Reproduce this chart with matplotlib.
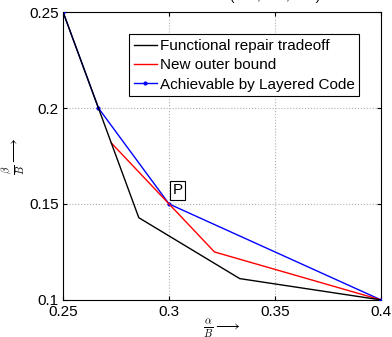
import matplotlib as mpl
import matplotlib.pyplot as plt

mpl.rcParams['font.family'] = ['Liberation Sans', 'DejaVu Sans']
mpl.rcParams['mathtext.fontset'] = 'cm'

# alpha/B and beta/B points of each curve
fr_alpha = [0.25, 4 / 15, 2 / 7, 1 / 3, 0.4]
fr_beta = [0.25, 0.2, 1 / 7, 1 / 9, 0.1]

ob_alpha = [3 / 11, 0.3, 9 / 28, 0.4]
ob_beta = [2 / 11, 0.15, 0.125, 0.1]

lc_alpha = [0.25, 4 / 15, 0.3, 0.4]
lc_beta = [0.25, 0.2, 0.15, 0.1]

xticks = [0.25, 0.3, 0.35, 0.4]
yticks = [0.1, 0.15, 0.2, 0.25]

fig = plt.figure(figsize=(3.92, 3.37), dpi=100)
ax = fig.add_axes([0.161, 0.11, 0.811, 0.854])

l3, = ax.plot(lc_alpha, lc_beta, '.-', color='blue', lw=1.0, ms=4, zorder=3,
              label='Achievable by Layered Code')
l2, = ax.plot(ob_alpha, ob_beta, '-', color='red', lw=1.0, zorder=3,
              label='New outer bound')
l1, = ax.plot(fr_alpha, fr_beta, '-', color='black', lw=1.0, zorder=4,
              label='Functional repair tradeoff')

ax.set_xlim(0.25, 0.4)
ax.set_ylim(0.1, 0.25)
ax.set_xticks(xticks)
ax.set_yticks(yticks)
ax.set_xticklabels(['0.25', '0.3', '0.35', '0.4'])
ax.set_yticklabels(['0.1', '0.15', '0.2', '0.25'])
ax.tick_params(direction='in', top=True, right=True, labelsize=11, length=3, pad=3)
ax.tick_params(axis='x', pad=4)
ax.grid(True, linestyle=':', color='#b0b0b0', lw=0.8)
for s in ax.spines.values():
    s.set_linewidth(0.8)

ax.set_xlabel(r'$\frac{\alpha}{B}\longrightarrow$', fontsize=11, labelpad=-1)
ax.set_ylabel(r'$\frac{\beta}{B}\longrightarrow$', fontsize=11, labelpad=2)

ax.text(0.3015, 0.1535, 'P', fontsize=11, ha='left', va='bottom', zorder=5,
        bbox=dict(boxstyle='square,pad=0.15', fc='white', ec='black', lw=0.8))

# title sits mostly above the top edge of the picture
ax.text(0.667, 1.043, '(n=5, k=4, d=4)', transform=ax.transAxes, fontsize=9.5,
        ha='center', va='baseline', clip_on=False)

leg = ax.legend([l1, l2, l3], [l1.get_label(), l2.get_label(), l3.get_label()],
                loc='upper right', bbox_to_anchor=(0.932, 0.923), fontsize=11,
                fancybox=False, framealpha=1, edgecolor='black',
                handlelength=1.5, handletextpad=0.2, borderpad=0.3,
                labelspacing=0.35, borderaxespad=0)
leg.get_frame().set_linewidth(0.8)

plt.savefig('out.png', dpi=100)
